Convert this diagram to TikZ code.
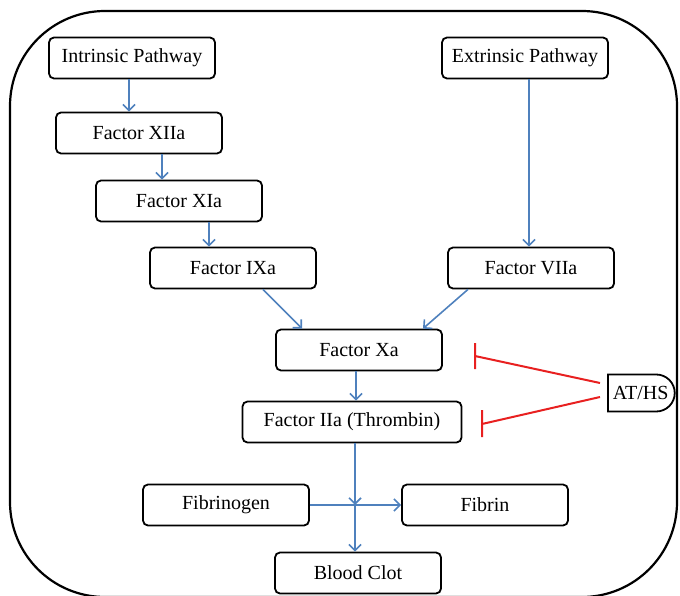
\documentclass[tikz,border=0pt]{standalone}
\usepackage{fontspec}
\setmainfont{Liberation Serif}
\usetikzlibrary{positioning,arrows.meta,shapes.misc}
\definecolor{flowblue}{RGB}{79,129,189}
\definecolor{inhred}{RGB}{232,32,32}

\begin{document}
\begin{tikzpicture}[x=1pt, y=-1pt,
	every node/.style={font=\fontsize{20}{23}\selectfont},
	box/.style={draw, rounded corners=5pt, line width=1.8pt, minimum width=166pt, minimum height=41pt, inner sep=2pt},
	arr/.style={draw=flowblue, line width=1.6pt, -{Straight Barb[length=6pt,width=12pt]}},
	inhibit/.style={draw=inhred, line width=2pt}]
	\useasboundingbox (0,0) rectangle (680,596);
	\draw[line width=2.2pt, rounded corners=95pt] (10,11) rectangle (677,597);
	\node[box] (intr) at (132,58) {Intrinsic Pathway};
	\node[box] (f12) at (139,133) {Factor XIIa};
	\node[box] (f11) at (179,201) {Factor XIa};
	\node[box] (f9) at (233,268) {Factor IXa};
	\node[box] (extr) at (525,58) {Extrinsic Pathway};
	\node[box] (f7) at (531,268) {Factor VIIa};
	\node[box] (f10) at (359,350) {Factor Xa};
	\node[box, minimum width=219pt] (f2) at (352,422) {Factor IIa (Thrombin)};
	\node[box] (fbg) at (226,505) {Fibrinogen};
	\node[box] (fbn) at (485,505) {Fibrin};
	\node[box] (clot) at (358,573) {Blood Clot};
	\node[draw, line width=1.8pt, rounded rectangle, rounded rectangle west arc=none, minimum height=37pt, inner xsep=5pt, inner ysep=2pt, anchor=west] (aths) at (607,393) {AT/HS};
	\coordinate (mix) at (355,505);
	\coordinate (barXa) at (475,356);
	\coordinate (barIIa) at (482,424);
	\draw[arr] ([xshift=-3pt]intr.south) -- ([xshift=-10pt]f12.north);
	\draw[arr] ([xshift=23pt]f12.south) -- ([xshift=-17pt]f11.north);
	\draw[arr] ([xshift=30pt]f11.south) -- ([xshift=-24pt]f9.north);
	\draw[arr] ([xshift=4pt]extr.south) -- ([xshift=-2pt]f7.north);
	\draw[arr] ([xshift=30pt]f9.south) -- ([xshift=-57pt]f10.north);
	\draw[arr] ([xshift=-63pt]f7.south) -- ([xshift=64pt]f10.north);
	\draw[arr] ([xshift=-3pt]f10.south) -- ([xshift=4pt]f2.north);
	\draw[arr] ([xshift=3pt]f2.south) -- (mix);
	\draw[arr] (mix) -- ([xshift=-3pt]clot.north);
	\draw[arr] (fbg) -- (fbn);
	\draw[inhibit] ([xshift=-7pt,yshift=10pt]aths.west) -- (barXa) ++(0,-13) -- ++(0,26);
	\draw[inhibit] ([xshift=-7pt,yshift=-4pt]aths.west) -- (barIIa) ++(0,-14) -- ++(0,27);
\end{tikzpicture}
\end{document}
